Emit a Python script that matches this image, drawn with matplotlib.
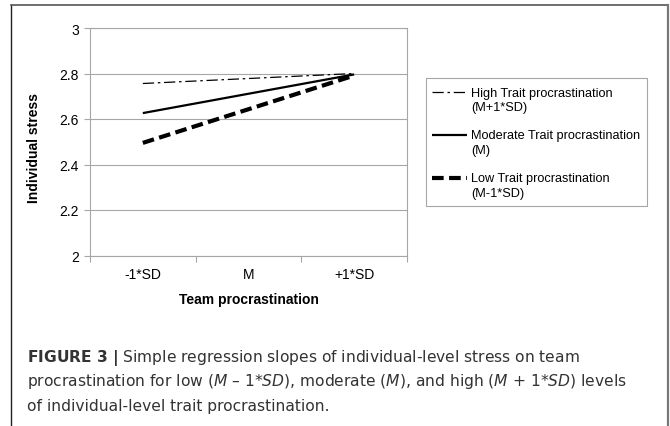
import numpy as np
import matplotlib
matplotlib.use("Agg")
import matplotlib.pyplot as plt
from matplotlib.lines import Line2D
from matplotlib.patches import Rectangle
from matplotlib.ticker import FixedLocator, FuncFormatter, NullFormatter

# datos
categorias = ['-1*SD', 'M', '+1*SD']
alto = [2.756, 2.778, 2.800]
moderado = [2.626, 2.711, 2.796]
bajo = [2.495, 2.643, 2.791]
etiquetas = ['High Trait procrastination\n(M+1*SD)',
             'Moderate Trait procrastination\n(M)',
             'Low Trait procrastination\n(M-1*SD)']
y_ticks = [2, 2.2, 2.4, 2.6, 2.8, 3]

plt.rcParams['font.family'] = ['Liberation Sans', 'DejaVu Sans']
plt.rcParams['mathtext.fontset'] = 'custom'
plt.rcParams['mathtext.rm'] = 'DejaVu Sans'
plt.rcParams['mathtext.it'] = 'DejaVu Sans:italic'
plt.rcParams['mathtext.bf'] = 'DejaVu Sans:bold'

gris = '#a6a6a6'

fig = plt.figure(figsize=(6.7, 4.27), dpi=100)
W, H = 670, 427

def fx(px):
    return px / W

def fy(py):
    return 1 - py / H

# marco exterior
fig.add_artist(Line2D([fx(11), fx(11)], [0, fy(6)], color='#222222', lw=1.0))
fig.add_artist(Line2D([fx(11), fx(668)], [fy(6), fy(6)], color='#555555', lw=1.2))
fig.add_artist(Line2D([fx(668), fx(668)], [0, fy(6)], color='#777777', lw=1.6))

ax = fig.add_axes([fx(90), fy(256.5), fx(407) - fx(90), fy(29) - fy(256.5)])
x = np.arange(len(categorias))

estilos = [
    dict(color='black', lw=0.9, dashes=(9, 3, 2, 3)),
    dict(color='black', lw=1.6),
    dict(color='black', lw=3.0, dashes=(2.8, 1.3)),
]
for serie, est in zip([alto, moderado, bajo], estilos):
    ax.plot(x, serie, solid_capstyle='butt', **est)

ax.set_xlim(-0.5, len(categorias) - 0.5)
ax.set_ylim(2, 3)
ax.xaxis.set_major_locator(FixedLocator(np.arange(len(categorias) + 1) - 0.5))
ax.xaxis.set_major_formatter(NullFormatter())
ax.xaxis.set_minor_locator(FixedLocator(x))
ax.set_xticklabels(categorias, minor=True)
ax.tick_params(axis='x', which='major', length=4, color=gris, width=0.8)
ax.tick_params(axis='x', which='minor', length=0, pad=8, labelsize=10)
ax.set_yticks(y_ticks)
ax.yaxis.set_major_formatter(FuncFormatter(lambda v, p: f'{v:g}'))
ax.tick_params(axis='y', length=4, color=gris, width=0.8, labelsize=10, pad=4)
ax.grid(axis='y', color=gris, lw=0.8)
for s in ax.spines.values():
    s.set_color(gris)
    s.set_linewidth(0.8)
ax.set_xlabel('Team procrastination', fontsize=10, fontweight='bold', labelpad=8)
ax.set_ylabel('Individual stress', fontsize=10, fontweight='bold')
ax.yaxis.set_label_coords(-0.156, 0.475)

# leyenda dibujada a mano
fig.add_artist(Rectangle((fx(426), fy(207)), fx(647) - fx(426), fy(79) - fy(207),
                         fill=False, edgecolor=gris, lw=0.8))
filas = [93, 136, 179]
for fila, est, lab in zip(filas, estilos, etiquetas):
    fig.add_artist(Line2D([fx(432), fx(467)], [fy(fila), fy(fila)], solid_capstyle='butt', **est))
    fig.text(fx(471), fy(fila - 5.5), lab, fontsize=9.2, va='top', ha='left', linespacing=1.3)

# pie de figura
cap = '#333333'
lineas = [
    r'$\mathbf{FIGURE\ 3\ |}$ Simple regression slopes of individual-level stress on team',
    r'procrastination for low ($\mathit{M}$ – 1*$\mathit{SD}$), moderate ($\mathit{M}$), and high ($\mathit{M}$ + 1*$\mathit{SD}$) levels',
    'of individual-level trait procrastination.',
]
for i, t in enumerate(lineas):
    fig.text(fx(27), fy(362 + 24.5 * i), t, fontsize=11.2, color=cap, ha='left', va='baseline',
             family='DejaVu Sans')

fig.savefig('out.png', dpi=100)
